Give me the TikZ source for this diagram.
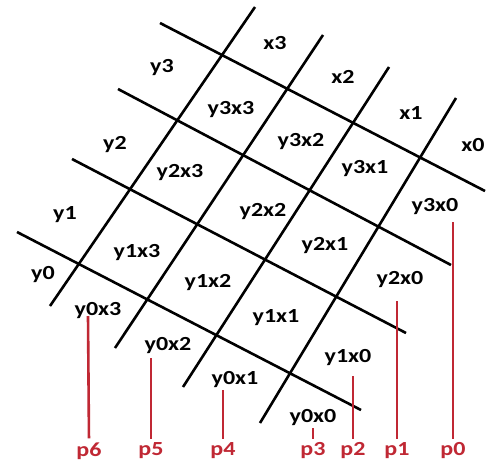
\documentclass[tikz,border=0pt]{standalone}
\usepackage{graphicx}
\usepackage{fontspec}
\setmainfont{Carlito}
\definecolor{pred}{RGB}{192,40,52}
\newcommand\wt[1]{\scalebox{1.2}[1]{#1}}
\begin{document}
\begin{tikzpicture}[x=1pt,y=-1pt,
  gridline/.style={line width=2.6pt,black},
  pline/.style={line width=2.6pt,pred,shorten >=4pt},
  lab/.style={inner sep=0pt,font=\fontsize{20}{24}\selectfont\bfseries},
  plab/.style={lab,text=pred}]
\useasboundingbox[fill=white] (0,0) rectangle (486,466);
% grid line end points
\coordinate (y3a) at (160,23);  \coordinate (y3b) at (485,191);
\coordinate (y2a) at (118,89);  \coordinate (y2b) at (451,265);
\coordinate (y1a) at (72,159);  \coordinate (y1b) at (406,333);
\coordinate (y0a) at (17,232);  \coordinate (y0b) at (361,410);
\coordinate (x3a) at (255,7);   \coordinate (x3b) at (50,306);
\coordinate (x2a) at (323,35);  \coordinate (x2b) at (115,348);
\coordinate (x1a) at (389,67);  \coordinate (x1b) at (183,387);
\coordinate (x0a) at (456,98);  \coordinate (x0b) at (260,423);
\foreach \n in {y3,y2,y1,y0,x3,x2,x1,x0} \draw[gridline] (\n a) -- (\n b);
% row / column labels
\node[lab] (lx3) at (275,43) {\wt{x3}};
\node[lab] (lx2) at (343,77) {\wt{x2}};
\node[lab] (lx1) at (411,113) {\wt{x1}};
\node[lab] (lx0) at (473,145) {\wt{x0}};
\node[lab] (ly3) at (162,68) {\wt{y3}};
\node[lab] (ly2) at (115,145) {\wt{y2}};
\node[lab] (ly1) at (65,215) {\wt{y1}};
\node[lab] (ly0) at (43,275) {\wt{y0}};
% cell labels
\node[lab] (c33) at (231,110) {\wt{y3x3}};
\node[lab] (c32) at (301,142) {\wt{y3x2}};
\node[lab] (c31) at (365,169) {\wt{y3x1}};
\node[lab] (c30) at (435,207) {\wt{y3x0}};
\node[lab] (c23) at (180,173) {\wt{y2x3}};
\node[lab] (c22) at (263,212) {\wt{y2x2}};
\node[lab] (c21) at (325,246) {\wt{y2x1}};
\node[lab] (c20) at (400,280) {\wt{y2x0}};
\node[lab] (c13) at (137,253) {\wt{y1x3}};
\node[lab] (c12) at (208,283) {\wt{y1x2}};
\node[lab] (c11) at (276,318) {\wt{y1x1}};
\node[lab] (c10) at (348,358) {\wt{y1x0}};
\node[lab] (c03) at (98,311) {\wt{y0x3}};
\node[lab] (c02) at (168,346) {\wt{y0x2}};
\node[lab] (c01) at (235,380) {\wt{y0x1}};
\node[lab] (c00) at (313,418) {\wt{y0x0}};
% p labels
\node[plab] (p6) at (89,451) {\wt{p6}};
\node[plab] (p5) at (151,451) {\wt{p5}};
\node[plab] (p4) at (223,451) {\wt{p4}};
\node[plab] (p3) at (313,451) {\wt{p3}};
\node[plab] (p2) at (353,451) {\wt{p2}};
\node[plab] (p1) at (397,451) {\wt{p1}};
\node[plab] (p0) at (453,451) {\wt{p0}};
\coordinate (t6) at (88,316);
\coordinate (t5) at (151,358);
\coordinate (t4) at (223,390);
\coordinate (t3) at (313,428);
\coordinate (t2) at (353,376);
\coordinate (t1) at (397,301);
\coordinate (t0) at (453,222);
\foreach \i in {0,...,6} \draw[pline] (t\i) -- (p\i.north);
\end{tikzpicture}
\end{document}
